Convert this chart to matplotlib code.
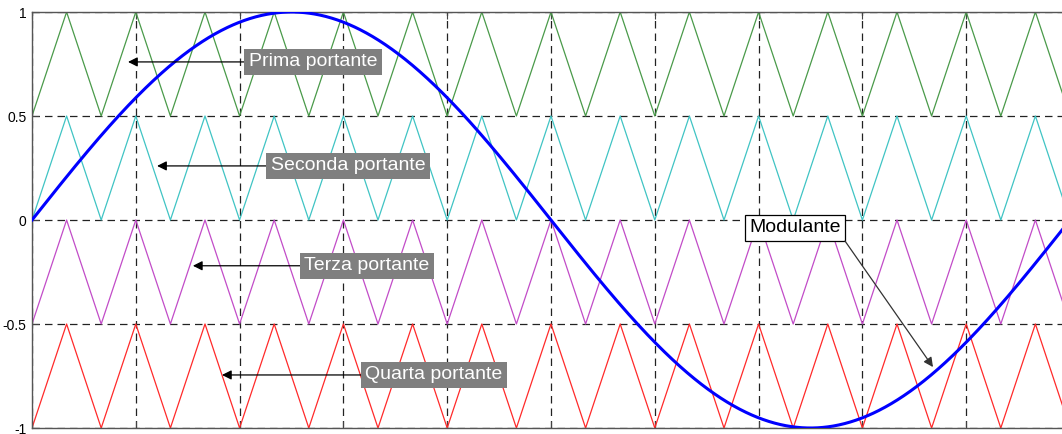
import numpy as np
import matplotlib
matplotlib.use("Agg")
import matplotlib.pyplot as plt

plt.rcParams['font.family'] = ['Liberation Sans', 'DejaVu Sans']

# modulating signal (sine) and carrier parameters
f_mod = 50.0            # Hz -> one full period over the plot
amp_mod = 1.0
carrier_ratio = 15      # carrier periods per modulating period
t_end = 1.0 / f_mod
carrier_low = [0.5, 0.0, -0.5, -1.0]   # lower level of each carrier
carrier_high = [1.0, 0.5, 0.0, -0.5]   # upper level of each carrier
carrier_colors = ['#4a9a4a', '#40c4c4', '#c24cc8', '#ff2a2a']
carrier_names = ['Prima portante', 'Seconda portante', 'Terza portante', 'Quarta portante']
y_ticks = [-1, -0.5, 0, 0.5, 1]
y_ticklabels = ['-1', '-0.5', '0', '0.5', '1']
x_ticks = np.arange(0, 11) * t_end / 10

W, H = 1062, 434
fig = plt.figure(figsize=(W / 100, H / 100), dpi=100)
# axes run a bit past the right border, as in the cropped original
ax = fig.add_axes([32 / W, 6 / H, 1038 / W, 416 / H])

t = np.linspace(0, t_end, 2000)
mod = amp_mod * np.sin(2 * np.pi * f_mod * t)

# triangle carriers: vertices every half carrier period, all in phase
n_half = 2 * carrier_ratio
t_vert = np.arange(n_half + 1) * t_end / n_half
for lo, hi, col in zip(carrier_low, carrier_high, carrier_colors):
    y_vert = np.where(np.arange(n_half + 1) % 2 == 0, lo, hi)
    ax.plot(t_vert, y_vert, color=col, lw=0.9, zorder=2)

ax.plot(t, mod, color='#0000ff', lw=2.2, zorder=3)

ax.set_xlim(0, t_end)
ax.set_ylim(-1, 1)
ax.set_xticks(x_ticks)
ax.set_xticklabels([])
ax.set_yticks(y_ticks)
ax.set_yticklabels(y_ticklabels, fontsize=10)
ax.tick_params(direction='in', top=True, right=True, length=5, color='#444444', pad=4)
ax.grid(True, color='#222222', ls=(0, (6, 4)), lw=0.9)
ax.set_axisbelow(True)
for s in ax.spines.values():
    s.set_color('#555555')
    s.set_linewidth(1.0)

gray_box = dict(boxstyle='square,pad=0.22', fc='#7f7f7f', ec='none')
arrow = dict(arrowstyle='-|>', color='black', lw=0.9, mutation_scale=14, shrinkA=0, shrinkB=0)

labels_pos = [(0.005414, 0.76, 0.00185), (0.006089, 0.26, 0.00241),
              (0.006455, -0.22, 0.00310), (0.007746, -0.745, 0.00366)]
for name, (tx, ty, ax_tip) in zip(carrier_names, labels_pos):
    ax.annotate(name, xy=(ax_tip, ty), xytext=(tx, ty), color='white', fontsize=14,
                ha='center', va='center', bbox=gray_box, arrowprops=arrow, zorder=5)

ax.text(0.0147, -0.038, 'Modulante', fontsize=14, ha='center', va='center',
        bbox=dict(boxstyle='square,pad=0.22', fc='white', ec='black', lw=0.9), zorder=5)
ax.annotate('', xy=(0.01736, -0.707), xytext=(0.015665, -0.101),
            arrowprops=dict(arrowstyle='-|>', color='#333333', lw=0.9, mutation_scale=14,
                            shrinkA=0, shrinkB=0), zorder=5)

fig.savefig('out.png', dpi=100)
